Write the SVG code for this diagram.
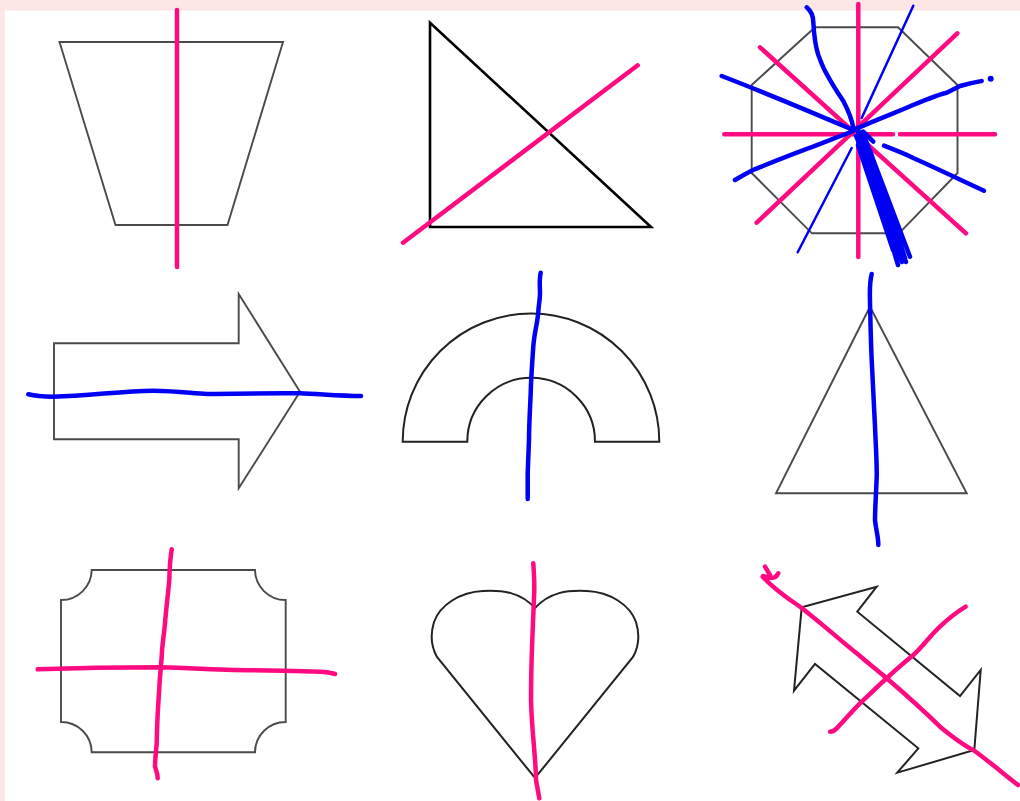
<svg xmlns="http://www.w3.org/2000/svg" width="1020" height="801" viewBox="0 0 1020 801">
<style>
.sh{fill:none;stroke:#4a4a4a;stroke-width:1.9;stroke-linejoin:miter}
.dk{fill:none;stroke:#222;stroke-width:2}
.pk{fill:none;stroke:#ff0a80;stroke-width:4.5;stroke-linecap:round;stroke-linejoin:round}
.bl{fill:none;stroke:#0000f5;stroke-width:4.5;stroke-linecap:round;stroke-linejoin:round}
.blt{fill:none;stroke:#0000f5;stroke-width:2.5;stroke-linecap:round}
</style>
<rect width="1020" height="801" fill="#fde6e6"/>
<rect x="5" y="10.5" width="1015" height="791" fill="#ffffff"/>
<g id="trapezoid"><polygon class="sh" points="59.5,42 283,42 227.5,225 115.5,225"/></g>
<g id="right-triangle"><polygon fill="none" stroke="#000" stroke-width="2.6" points="430,22.7 430,227 651,227"/></g>
<g id="octagon"><polygon class="sh" points="815,27.3 898,27.3 957.5,85 957.5,173 899,233.3 812,233.3 751.7,173 751.7,85"/></g>
<g id="arrow"><polygon class="sh" points="54,343.3 238.7,343.3 238.7,294 300,391.7 238.7,488.3 238.7,439.3 54,439.3"/></g>
<g id="semi-annulus"><path class="dk" d="M402.7,441.7 A128.3,128.3 0 0 1 659.3,441.7 L595,441.7 A63.8,63.8 0 0 0 467.3,441.7 Z"/></g>
<g id="isosceles-triangle"><polygon class="sh" points="870,306.7 966.7,493.3 776,493.3"/></g>
<g id="notched-rectangle"><path class="sh" d="M91.7,570 L255,570 A30.5,30.5 0 0 0 285.7,600 L285.7,722 A30.5,30.5 0 0 0 255,752.3 L91.7,752.3 A30.5,30.5 0 0 0 61,722 L61,600 A30.5,30.5 0 0 0 91.7,570 Z"/></g>
<g id="heart"><path class="dk" stroke="#333" d="M535,608 C520,592 503,590 483,591 C460,592 440,605 434,622 C430,635 432,648 437,657 L535,778 L633,657 C638,648 640,635 636,622 C630,605 610,592 587,591 C567,590 550,592 535,608 Z"/></g>
<g id="double-arrow"><polygon class="dk" points="876.7,586.7 857.3,611.7 960,696 980.7,670 974.3,750 897.3,772.7 918.3,748.3 815,664 794,690.7 801.7,607.3"/></g>
<g id="lines">
<path class="pk" d="M177,10 L177,267"/>
<path class="pk" d="M403,242.7 L637.7,65.3"/>
<path class="pk" d="M858.3,4 L858.3,257"/>
<path class="pk" d="M724.3,134.3 L893,134.3 M900,134.3 L995,134.3"/>
<path class="pk" d="M760,47.3 L966,233.3"/>
<path class="pk" d="M756.7,222.7 L957.3,33.3"/>
<path class="blt" d="M913.3,5.7 L861.7,118 M851.7,148 L797.7,252.3"/>
<path class="bl" d="M806.7,7.3 C812,12 813.3,18 813.3,22 C814,35 815,45 818.3,55 C821,62 823,68 826.7,74 C833,86 840,96 843.3,101 C848,110 852,120 853.3,128"/>
<path class="bl" d="M721.7,76 C745,85 790,103 853.3,130"/>
<path class="bl" d="M853.3,130 C880,118 900,111 913,105 C930,98 940,94 946.7,92.7 C952,90 956,88 960,86 C970,83 976,82 981.7,81"/>
<circle cx="990.7" cy="78.7" r="3" fill="#0000f5"/>
<path class="bl" d="M853.3,131 C835,138 820,144 813,146.7 C790,155 768,164 753,170 C745,174 740,177 735,180"/>
<path class="bl" d="M884,145.7 C895,150 905,154 913.3,158 C940,170 965,182 984,190.7"/>
<path class="bl" d="M863.3,131.7 L873.3,141.7"/>
<path class="bl" d="M857,128 L898,265 M861,135 L906,262 M865,138 L910,256.7 M860,140 L902,262 M858,145 L893,250 M870,150 L905,258 M856,136 L866,160 M862,132 C866,140 870,150 868,170"/>
<path class="bl" d="M28.3,394.3 C35,396 45,396.7 53,396.7 C90,396 120,391 153,390.7 C180,391 195,394 207,394 C240,393.5 270,393 300,393.3 C320,394 340,396 361,396"/>
<path class="bl" d="M540.7,272.7 C539,280 540,287 540,293.3 C540,300 538.3,307 538.3,312.7 C537,325 534,335 533.3,346.7 C532,365 531,380 530.7,393.3 C530,410 529,425 529,440 C528.5,455 528,465 527.7,473 L527.7,499"/>
<path class="bl" d="M871.7,274 C869,285 870,295 870,303 C870.5,325 871,345 871.7,360 C873,390 874,410 875,426.7 C876,450 877,465 876.7,476.7 C876,495 875,510 875,520 C876,530 878.5,538 878.3,545"/>
<path class="pk" d="M37.7,669.3 C60,668.5 80,668 96.7,667.7 C120,667.5 140,667.3 160,667.3 C190,668 210,669.5 233,670 C250,670.3 270,670.5 283,670.7 C300,671 310,671.3 320,671.7 C326,672 332,673 335,674"/>
<path class="pk" d="M171.7,549.3 C170,560 169.5,570 169.3,580 C168,595 166,610 165,623.3 C164,635 162,645 161.7,656.7 C160,675 159,690 158.3,703.3 C157.5,715 157,730 156.7,743.3 C156,752 155,760 155,766.7 C156,770 157.7,774 157.7,778.3"/>
<path class="pk" d="M533.3,563.3 C534,575 534.5,582 534.3,590 C533.5,610 532.8,625 532.3,640 C531.5,660 531,680 531,700 C531.5,720 533,735 534,746.7 C535,760 536,770 536,780 L539.3,798.3"/>
<path class="pk" d="M765,566.7 L770,575 M763,576 C770,578 775,580 778.3,573.3 M762.7,576.7 C775,590 790,600 800,606.7 C820,622 840,640 856.7,653.3 C868,663 878,671 886.7,678.3 C905,694 925,712 940,726.7 C955,739 965,746 973.3,750 C990,762 1005,775 1018,785"/>
<path class="pk" d="M830,731.7 C833,731.5 835,730 836.7,728.3 C845,720 852,711 860,703.3 C870,694 878,686 886.7,678.3 C895,670 905,662 913.3,655 C922,647 930,636 940,626.7 C948,619 957,612 965.7,606.7"/>
</g>
</svg>
